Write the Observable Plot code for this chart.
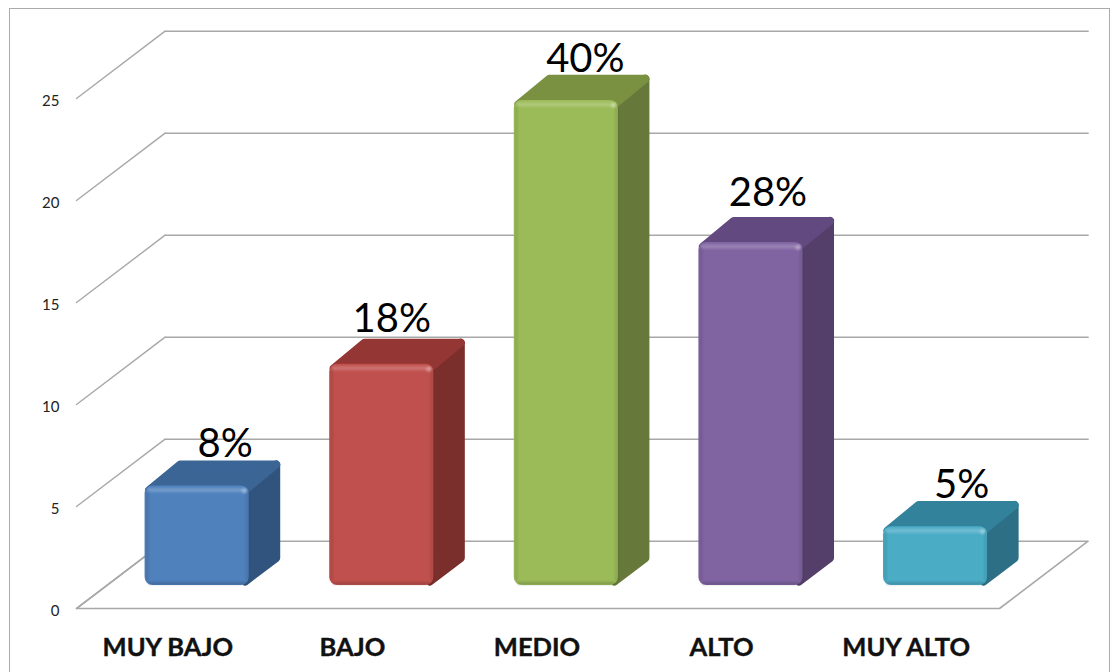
<!DOCTYPE html>
<html><head><meta charset="utf-8">
<script src="https://cdn.jsdelivr.net/npm/d3@7"></script>
<script src="https://cdn.jsdelivr.net/npm/@observablehq/plot@0.6"></script>
<style>
html,body{margin:0;padding:0;background:#fff;overflow:hidden}
#chart{position:absolute;left:0;top:0;width:1120px;height:672px}
#frame{position:absolute;left:9px;top:8px;width:1101px;height:680px;border:1.5px solid #ababab;box-sizing:border-box;pointer-events:none}
</style></head><body>
<div id="frame"></div><div id="chart"></div>
<script>
const categories = ["MUY BAJO","BAJO","MEDIO","ALTO","MUY ALTO"];
const values = [5,11,24,17,3];
const percents = ["8%","18%","40%","28%","5%"];
const yTicks = [0,5,10,15,20,25];
const frontColors = ["#4f81bd","#c0504d","#9bbb59","#8064a2","#4bacc6"];
const topColors = ["#3b6595","#943633","#7a9141","#624a80","#33829b"];
const sideColors = ["#31547f","#7b2f2d","#66783a","#533f69","#2d6f85"];
// hand placement of the percent labels, as in the source chart (scale units)
const labelShift = [0.152,0.054,0.103,0.092,0.141];
const labelRise = [3.14,3.26,3.01,3.44,3.13];

// oblique projection, expressed in scale units
const depthX = 0.48, depthY = 3.3;
const barStart = 0.32, barEnd = 0.67, halfW = 0.282;
const insetX = 0.0217, insetY = 0.196, base = 0.07, backLift = 0.1;
const barTop = v => v*0.995 - 0.03;
const px = (i,z) => i + z*depthX;
const py = (v,z) => v + z*depthY;

const floor = [[-0.5,0],[4.5,0],[4.5,0,1],[-0.5,0,1]].map(([i,v,z=0]) => ({x:px(i,z),y:py(v,z)}));
const grid = yTicks.filter(t=>t>0).flatMap((t,k)=>[{x:px(-0.5,1),y:py(t,1),g:"b"+k},{x:px(4.5,1),y:py(t,1),g:"b"+k}]);
const wall = yTicks.flatMap((t,k)=>[{x:px(-0.5,0),y:py(t,0),g:"w"+k},{x:px(-0.5,1),y:py(t,1),g:"w"+k}]);

const bars = categories.map((c,i)=>({c,i,v:values[i],p:percents[i],t:barTop(values[i])}));
const front = bars.map(b=>({x1:px(b.i-halfW,barStart),x2:px(b.i+halfW,barStart),y1:py(base,barStart),y2:py(b.t,barStart),fill:frontColors[b.i]}));
const poly = (b,pts,colors) => pts.map(([i,v,z])=>({x:px(i,z),y:py(v,z),g:b.i,col:colors[b.i]}));
const L = b=>b.i-halfW+insetX, R = b=>b.i+halfW-insetX;
const tops = bars.flatMap(b=>poly(b,[[L(b),b.t-insetY,barStart],[R(b),b.t-insetY,barStart],[R(b),b.t-insetY+backLift,barEnd],[L(b),b.t-insetY+backLift,barEnd]],topColors));
const sides = bars.flatMap(b=>poly(b,[[R(b),base+insetY,barStart],[R(b),b.t-insetY,barStart],[R(b),b.t-insetY+backLift,barEnd],[R(b),base+insetY,barEnd]],sideColors));
const seg = (k,i0,v0,i1,v1) => [{x:px(i0,barStart),y:py(v0,barStart),g:k},{x:px(i1,barStart),y:py(v1,barStart),g:k}];
const lightEdges = bars.flatMap(b=>seg("t"+b.i,L(b),b.t,R(b),b.t));
const bottomEdges = bars.flatMap(b=>seg("b"+b.i,L(b),base,R(b),base));
const leftEdges = bars.flatMap(b=>seg("l"+b.i,b.i-halfW,base+0.3,b.i-halfW,b.t-0.3));
const rightEdges = bars.flatMap(b=>seg("r"+b.i,b.i+halfW,base+0.3,b.i+halfW,b.t-0.3));
const spots = bars.map(b=>({x:px(R(b),barStart),y:py(b.t,barStart)}));

const soft = (index,scales,vals,dims,ctx,next)=>{const g=next(index,scales,vals,dims,ctx);g.setAttribute("filter","url(#soft)");return g;};
const font = "Lato, sans-serif";
const grey = "#a8a8a8";

const chart = Plot.plot({
  width:1120,height:672,margin:0,
  x:{type:"linear",domain:[-0.5,4.5],range:[76,999],axis:null},
  y:{type:"linear",domain:[0,25],range:[608,98],axis:null},
  marks:[
    Plot.line(floor,{x:"x",y:"y",stroke:grey,strokeWidth:1.6,curve:"linear-closed"}),
    Plot.line(grid,{x:"x",y:"y",z:"g",stroke:grey,strokeWidth:1.6}),
    Plot.line(wall,{x:"x",y:"y",z:"g",stroke:grey,strokeWidth:1.4}),
    Plot.line(sides,{x:"x",y:"y",z:"g",fill:"col",stroke:"col",strokeWidth:8,strokeLinejoin:"round",curve:"linear-closed"}),
    Plot.line(tops,{x:"x",y:"y",z:"g",fill:"col",stroke:"col",strokeWidth:8,strokeLinejoin:"round",curve:"linear-closed"}),
    Plot.rect(front,{x1:"x1",x2:"x2",y1:"y1",y2:"y2",fill:"fill",rx:8}),
    Plot.line(bottomEdges,{x:"x",y:"y",z:"g",stroke:"#000",strokeOpacity:0.16,strokeWidth:3,dy:-2,render:soft}),
    Plot.line(leftEdges,{x:"x",y:"y",z:"g",stroke:"#000",strokeOpacity:0.1,strokeWidth:3,dx:2,render:soft}),
    Plot.line(rightEdges,{x:"x",y:"y",z:"g",stroke:"#000",strokeOpacity:0.1,strokeWidth:3,dx:-2,render:soft}),
    Plot.line(lightEdges,{x:"x",y:"y",z:"g",stroke:"#fff",strokeOpacity:0.2,strokeWidth:4,dy:4,render:soft}),
    Plot.dot(spots,{x:"x",y:"y",r:2.5,dy:5,dx:-1,fill:"#fff",fillOpacity:0.3,render:soft}),
    Plot.text(yTicks,{x:-0.5,y:d=>d,text:d=>String(d),textAnchor:"end",dx:-17,dy:3,fontFamily:font,fontSize:15,fill:"#222"}),
    Plot.text(bars,{x:d=>px(d.i,barStart)+labelShift[d.i],y:d=>d.v+labelRise[d.i],text:"p",dy:1.5,fontFamily:font,fontSize:40,fill:"#000"}),
    Plot.text(categories.map((c,i)=>({c,i})),{x:"i",y:0,text:"c",dy:39,dx:-1,fontFamily:font,fontWeight:700,fontSize:25.5,fill:"#111",stroke:"#111",strokeWidth:0.4})
  ]
});
const ns="http://www.w3.org/2000/svg";
const defs=document.createElementNS(ns,"defs");
defs.innerHTML='<filter id="soft" x="0" y="0" width="1120" height="672" filterUnits="userSpaceOnUse"><feGaussianBlur stdDeviation="1.2"/></filter>';
chart.prepend(defs);
chart.style.background="transparent";
document.getElementById("chart").append(chart);
</script>
</body></html>
